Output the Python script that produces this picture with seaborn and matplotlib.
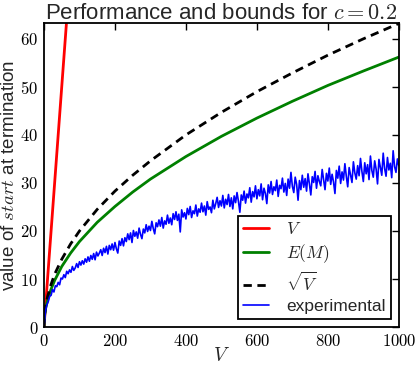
import numpy as np
import pandas as pd
import matplotlib
matplotlib.use("Agg")
import matplotlib.pyplot as plt
import seaborn as sns
from matplotlib.ticker import FuncFormatter, MultipleLocator

# ---- data ----
V_x = [0, 1000]
V_y = [0, 1000]

EM_x = [0, 1, 2, 5, 10, 20, 30, 50, 75, 100, 150, 200, 250, 300, 400, 500, 600, 700, 800, 900, 1000]
EM_y = [0, 1.8, 2.5, 4.0, 5.6, 7.9, 9.7, 12.6, 15.4, 17.8, 21.8, 25.1, 28.1, 30.8, 35.5, 39.7, 43.5, 47.0, 50.3, 53.3, 56.2]

SQ_x = [0, 1, 2, 5, 10, 20, 30, 50, 75, 100, 150, 200, 250, 300, 400, 500, 600, 700, 800, 900, 1000]
SQ_y = [0, 2.0, 2.8, 4.5, 6.3, 8.9, 11.0, 14.1, 17.3, 20.0, 24.5, 28.3, 31.6, 34.6, 40.0, 44.7, 49.0, 52.9, 56.6, 60.0, 63.2]

EXP_x = list(range(0, 1001, 4))
EXP_y = [
    0, 3.2, 4.6, 5.3, 6.4, 6.6, 7.8, 7.3, 8.6, 8.4,
    9.3, 8.8, 10.2, 10.0, 10.9, 10.3, 11.6, 11.1, 11.9, 11.4,
    12.6, 11.8, 12.3, 13.2, 12.4, 13.6, 12.9, 13.8, 13.1, 14.2,
    13.5, 14.6, 13.7, 14.9, 14.1, 15.3, 14.0, 15.6, 14.8, 15.4,
    16.1, 14.9, 16.4, 15.5, 16.8, 15.2, 17.0, 16.1, 17.3, 16.0,
    17.6, 16.3, 15.4, 17.9, 17.0, 18.4, 16.9, 18.6, 17.8, 19.4,
    18.2, 19.6, 17.6, 20.1, 18.9, 19.8, 18.5, 20.6, 19.3, 18.4,
    20.4, 19.6, 21.3, 19.9, 21.0, 20.1, 22.0, 20.5, 19.4, 21.7,
    20.9, 22.3, 21.0, 22.8, 20.6, 22.1, 21.4, 23.3, 21.6, 22.7,
    21.3, 23.6, 22.4, 24.0, 22.2, 23.5, 19.8, 24.4, 22.9, 23.8,
    22.5, 24.7, 23.4, 25.1, 22.8, 24.2, 23.6, 25.4, 23.1, 24.6,
    23.9, 25.8, 24.0, 25.2, 23.3, 26.1, 24.5, 25.0, 23.8, 26.4,
    24.6, 25.7, 27.0, 24.9, 26.3, 25.2, 27.4, 24.8, 26.6, 25.5,
    27.6, 25.1, 26.9, 24.6, 27.3, 25.9, 28.0, 26.2, 23.9, 27.5,
    26.4, 28.3, 25.8, 27.7, 26.9, 29.0, 26.0, 28.2, 27.1, 29.4,
    26.7, 28.6, 27.3, 29.8, 26.5, 28.9, 27.8, 25.7, 29.6, 27.9,
    30.3, 27.6, 29.2, 28.4, 30.6, 27.2, 29.5, 28.8, 31.0, 28.1,
    29.9, 27.4, 30.8, 28.9, 32.2, 29.3, 28.0, 31.2, 29.7, 26.4,
    30.5, 28.6, 31.6, 29.1, 30.9, 28.3, 31.9, 29.8, 27.5, 31.3,
    30.1, 32.4, 28.9, 31.5, 30.3, 29.4, 32.8, 30.7, 28.6, 32.0,
    30.4, 33.1, 29.7, 31.8, 30.2, 27.8, 32.6, 31.0, 33.5, 29.9,
    32.3, 30.6, 34.0, 31.4, 29.2, 33.2, 31.7, 30.1, 34.4, 32.1,
    30.8, 33.6, 31.5, 35.1, 32.4, 30.3, 34.2, 31.9, 33.8, 30.7,
    35.6, 32.6, 31.2, 34.6, 32.9, 29.8, 34.9, 33.3, 31.6, 36.2,
    33.0, 31.4, 35.3, 32.7, 34.1, 31.1, 36.7, 33.4, 32.2, 35.0,
    33.6,
]

X_TICKS = [0, 200, 400, 600, 800, 1000]
Y_TICKS = [0, 10, 20, 30, 40, 50, 60]

# ---- style ----
sns.set_style("white")
plt.rcParams["font.family"] = ["Liberation Sans", "DejaVu Sans"]
plt.rcParams["mathtext.fontset"] = "cm"
plt.rcParams["axes.linewidth"] = 1.3
plt.rcParams["axes.edgecolor"] = "black"

fig = plt.figure(figsize=(4.15, 3.65), dpi=100)
ax = fig.add_axes([0.106, 0.104, 0.855, 0.833])

sns.lineplot(x=V_x, y=V_y, ax=ax, color="#ff0000", lw=2.0, label="$V$", estimator=None)
sns.lineplot(x=EM_x, y=EM_y, ax=ax, color="#008000", lw=2.0, label="$E(M)$", estimator=None)
sns.lineplot(x=SQ_x, y=SQ_y, ax=ax, color="black", lw=2.0, label=r"$\sqrt{V}$", estimator=None)
ax.lines[-1].set_dashes([3, 2])
sns.lineplot(x=EXP_x, y=EXP_y, ax=ax, color="#0000ff", lw=1.2, label="experimental", estimator=None)

ax.set_xlim(0, 1000)
ax.set_ylim(0, 63.3)
ax.set_xticks(X_TICKS)
ax.set_yticks(Y_TICKS)
fmt = FuncFormatter(lambda v, p: f"${int(v)}$")
ax.xaxis.set_major_formatter(fmt)
ax.yaxis.set_major_formatter(fmt)
ax.tick_params(direction="in", top=True, right=True, length=5, width=1,
               labelsize=12, colors="black", pad=4)

ax.set_title("Performance and bounds for $c = 0.2$", fontsize=16, pad=3)
ax.set_xlabel("$V$", fontsize=14, labelpad=-1)
ax.set_ylabel("value of $start$ at termination", fontsize=13.5, labelpad=2)

leg = ax.legend(loc="lower right", fontsize=12.5, frameon=True, fancybox=False,
                handlelength=1.5, handletextpad=1.0, labelspacing=0.3,
                borderaxespad=0.45, borderpad=0.3)
leg.get_frame().set_edgecolor("black")
leg.get_frame().set_linewidth(1.3)
leg.get_frame().set_alpha(1)
for h, w in zip(leg.get_lines(), [2.0, 2.0, 2.0, 1.2]):
    h.set_linewidth(w)

fig.savefig("out.png", dpi=100)
